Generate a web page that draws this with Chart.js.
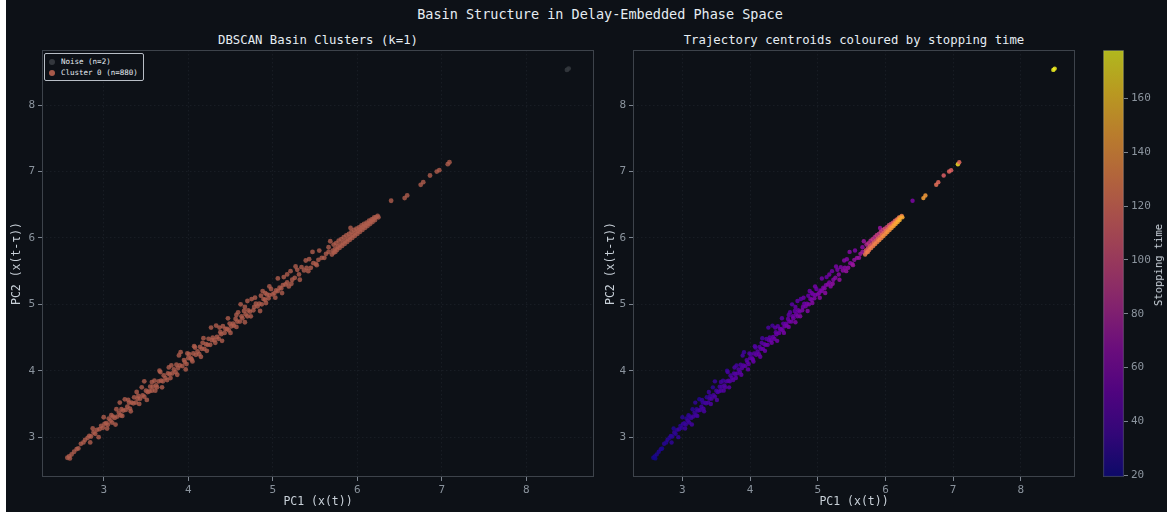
<!DOCTYPE html>
<html>
<head>
<meta charset="utf-8">
<script src="https://cdn.jsdelivr.net/npm/chart.js@4.4.1/dist/chart.umd.min.js"></script>
<style>
  body { margin: 0; background: #ffffff; }
  #fig { position: absolute; left: 6px; top: 0; width: 1161px; height: 512px; background: #0d1117;
         font-family: "DejaVu Sans Mono", monospace; overflow: hidden; }
  canvas { position: absolute; top: 0; }
  .txt { position: absolute; white-space: nowrap; color: #e6edf3; }
  #legend { position: absolute; left: 38px; top: 53px; border: 1px solid #b8bec6; border-radius: 2px;
            padding: 2px 5px 2px 4px; font-size: 7.5px; color: #e6edf3; line-height: 11px; background: #0d1117; }
  #legend .dot { display: inline-block; width: 6px; height: 6px; border-radius: 50%; margin-right: 6px; vertical-align: -1px; }
</style>
</head>
<body>
<div id="fig">
  <div class="txt" id="suptitle" style="left:0;width:1188px;text-align:center;top:6px;font-size:13.5px;">Basin Structure in Delay-Embedded Phase Space</div>
  <div class="txt" style="left:36px;width:552px;text-align:center;top:33px;font-size:12.3px;">DBSCAN Basin Clusters (k=1)</div>
  <div class="txt" style="left:627px;width:442px;text-align:center;top:33px;font-size:12.3px;">Trajectory centroids coloured by stopping time</div>
  <canvas id="left" width="594" height="512" style="left:0"></canvas>
  <canvas id="right" width="480" height="512" style="left:594px"></canvas>
  <canvas id="cbar" width="82" height="512" style="left:1079px"></canvas>
  <div class="txt" style="left:1152px;top:265px;font-size:10.5px;color:#c9d1d9;transform:translate(-50%,-50%) rotate(-90deg);">Stopping time</div>
  <div id="legend">
    <div><span class="dot" style="background:#33373d"></span>Noise (n=2)</div>
    <div><span class="dot" style="background:#a85a4a"></span>Cluster 0 (n=880)</div>
  </div>
</div>
<script>
// points: PC1, PC2 and stopping time
const noisePc1 = [8.48, 8.50];
const noisePc2 = [8.53, 8.55];
const noiseStop = [176, 174];

const clusterPc1 = [
  2.57, 2.59, 2.60, 2.62, 2.65, 2.68, 2.70, 2.73, 2.76, 2.78,
  2.81, 2.83, 2.85, 2.88, 2.90, 2.92, 2.95, 2.97, 2.99, 3.01,
  3.03, 3.05, 3.06, 3.08, 3.10, 3.11, 3.13, 3.15, 3.16, 3.18,
  3.20, 3.21, 3.23, 3.25, 3.26, 3.28, 3.30, 3.31, 3.33, 3.35,
  3.36, 3.38, 3.40, 3.41, 3.43, 3.45, 3.46, 3.48, 3.50, 3.52,
  3.54, 3.55, 3.57, 3.58, 3.60, 3.62, 3.63, 3.65, 3.66, 3.68,
  3.70, 3.71, 3.73, 3.75, 3.76, 3.78, 3.80, 3.81, 3.83, 3.85,
  3.86, 3.88, 3.90, 3.91, 3.93, 3.95, 3.96, 3.98, 4.00, 4.01,
  4.03, 4.04, 4.06, 4.08, 4.09, 4.11, 4.13, 4.14, 4.16, 4.18,
  4.19, 4.21, 4.23, 4.24, 4.26, 4.28, 4.29, 4.31, 4.33, 4.34,
  4.36, 4.38, 4.39, 4.41, 4.43, 4.44, 4.46, 4.48, 4.49, 4.51,
  4.53, 4.54, 4.56, 4.58, 4.59, 4.61, 4.63, 4.64, 4.66, 4.68,
  4.70, 4.71, 4.73, 4.75, 4.77, 4.78, 4.80, 4.82, 4.84, 4.86,
  4.87, 4.89, 4.91, 4.93, 4.95, 4.96, 4.98, 5.00,
  5.02, 5.04, 5.06, 5.08, 5.10, 5.12, 5.13, 5.15, 5.17, 5.19,
  5.21, 5.23, 5.26, 5.29, 5.31, 5.34, 5.37, 5.40, 5.43, 5.45,
  5.48, 5.51, 5.54, 5.55, 5.58, 5.61, 5.63, 5.66,
  4.62, 4.70, 4.88, 4.96, 5.92, 5.68, 5.66,
  // lower edge of the band
  2.84, 2.94, 3.04, 3.14, 3.22, 3.32, 3.42, 3.51, 3.61, 3.69,
  3.79, 3.87, 3.97, 4.05, 4.15, 4.22, 4.32, 4.40, 4.50, 4.57,
  4.67, 4.74, 4.85, 4.92, 5.03, 5.11, 5.22, 5.32, 5.42, 5.52,
  // upper scatter of the band
  2.87, 3.00, 3.09, 3.19, 3.29, 3.39, 3.48, 3.57, 3.67, 3.77,
  3.89, 3.99, 4.07, 4.17, 4.27, 4.37, 4.47, 4.57, 4.67, 4.79,
  4.91, 5.06, 5.17, 5.27, 5.39, 5.47,
  // dense basin: upper edge, middle, lower edge
  5.72, 5.75, 5.78, 5.81, 5.84, 5.87, 5.90, 5.93, 5.96, 5.99,
  6.02, 6.05, 6.08, 6.11, 6.14, 6.17, 6.20, 6.24,
  5.71, 5.74, 5.77, 5.80, 5.83, 5.86, 5.89, 5.92, 5.95, 5.98,
  6.01, 6.04, 6.07, 6.10, 6.13, 6.16, 6.19, 6.22,
  5.70, 5.72, 5.74, 5.76, 5.79, 5.82, 5.85, 5.88, 5.91, 5.94,
  5.97, 6.00, 6.03, 6.06, 6.09, 6.12, 6.15, 6.18, 6.21, 6.25,
  // isolated points beyond the basin
  6.40, 6.56, 6.59, 6.75, 6.78, 6.86, 6.94, 6.97, 7.07, 7.09
];
const clusterPc2 = [
  2.69, 2.71, 2.68, 2.74, 2.78, 2.82, 2.83, 2.90, 2.92, 2.96,
  2.99, 3.02, 3.01, 3.07, 3.05, 3.11, 3.12, 3.17, 3.14, 3.20,
  3.21, 3.19, 3.28, 3.25, 3.22, 3.31, 3.29, 3.42, 3.31, 3.37,
  3.33, 3.42, 3.40, 3.57, 3.41, 3.46, 3.52, 3.43, 3.52, 3.51,
  3.60, 3.52, 3.58, 3.62, 3.58, 3.75, 3.63, 3.61, 3.70, 3.68,
  3.69, 3.76, 3.70, 3.76, 3.85, 3.78, 3.75, 3.84, 4.00, 3.85,
  3.84, 3.93, 3.89, 3.86, 3.96, 3.95, 4.08, 3.96, 4.02, 3.98,
  4.09, 4.04, 4.08, 4.28, 4.07, 4.16, 4.13, 4.10, 4.19, 4.25,
  4.19, 4.17, 4.26, 4.35, 4.24, 4.29, 4.25, 4.36, 4.33, 4.49,
  4.33, 4.40, 4.39, 4.48, 4.39, 4.46, 4.50, 4.46, 4.68, 4.51,
  4.48, 4.58, 4.55, 4.67, 4.57, 4.63, 4.63, 4.61, 4.71, 4.67,
  4.71, 4.68, 4.78, 4.74, 4.88, 4.74, 4.82, 4.79, 4.90, 4.85,
  4.82, 4.91, 4.89, 5.08, 4.91, 4.96, 5.01, 4.97, 5.01, 5.13,
  5.00, 5.08, 5.07, 5.15, 5.09, 5.14, 5.23, 5.15,
  5.17, 5.21, 5.20, 5.25, 5.24, 5.29, 5.41, 5.30, 5.33, 5.27,
  5.50, 5.37, 5.40, 5.52, 5.45, 5.56, 5.51, 5.55, 5.68, 5.55,
  5.62, 5.61, 5.67, 5.81, 5.70, 5.70, 5.76, 5.79,
  5.00, 5.05, 5.20, 5.27, 6.15, 5.95, 5.86,
  2.92, 3.00, 3.13, 3.19, 3.32, 3.39, 3.50, 3.56, 3.70, 3.75,
  3.89, 3.94, 4.02, 4.14, 4.21, 4.30, 4.42, 4.45, 4.57, 4.66,
  4.73, 4.82, 4.90, 5.02, 5.10, 5.17, 5.31, 5.37, 5.50, 5.59,
  3.13, 3.30, 3.33, 3.52, 3.56, 3.68, 3.84, 3.83, 3.98, 4.05,
  4.23, 4.26, 4.37, 4.42, 4.65, 4.65, 4.79, 4.84, 4.96, 5.10,
  5.17, 5.39, 5.45, 5.57, 5.66, 5.79,
  5.90, 5.92, 5.96, 5.98, 6.01, 6.04, 6.06, 6.09, 6.12, 6.14,
  6.16, 6.19, 6.21, 6.23, 6.26, 6.28, 6.31, 6.33,
  5.81, 5.84, 5.87, 5.90, 5.93, 5.96, 5.99, 6.02, 6.05, 6.08,
  6.11, 6.14, 6.17, 6.19, 6.22, 6.25, 6.28, 6.31,
  5.75, 5.78, 5.79, 5.82, 5.85, 5.88, 5.91, 5.94, 5.97, 6.00,
  6.03, 6.06, 6.09, 6.12, 6.15, 6.18, 6.21, 6.24, 6.27, 6.31,
  6.56, 6.60, 6.64, 6.80, 6.84, 6.94, 7.00, 7.02, 7.11, 7.14
];
const clusterStop = [
  22, 24, 21, 25, 26, 27, 24, 28, 26, 29,
  27, 30, 28, 31, 29, 30, 32, 28, 31, 33,
  30, 33, 29, 34, 35, 31, 33, 28, 36, 32,
  35, 31, 34, 27, 37, 35, 32, 38, 34, 36,
  31, 38, 36, 33, 39, 29, 37, 40, 35, 38,
  39, 36, 41, 38, 34, 40, 42, 39, 32, 41,
  43, 38, 42, 44, 39, 43, 36, 44, 41, 45,
  39, 44, 43, 35, 46, 42, 45, 47, 44, 41,
  46, 48, 44, 40, 47, 45, 49, 43, 47, 38,
  50, 46, 49, 42, 51, 48, 45, 50, 37, 49,
  52, 47, 51, 44, 53, 49, 52, 54, 47, 53,
  51, 55, 50, 54, 46, 56, 52, 55, 49, 54,
  57, 53, 56, 45, 58, 55, 52, 57, 56, 50,
  59, 56, 58, 53, 60, 57, 52, 59,
  60, 58, 61, 59, 62, 60, 52, 63, 61, 64,
  55, 62, 64, 58, 65, 60, 66, 64, 62, 67,
  66, 68, 69, 60, 70, 71, 72, 74,
  45, 48, 52, 55, 70, 72, 66,
  30, 31, 34, 36, 36, 38, 40, 41, 43, 44,
  46, 47, 48, 50, 51, 52, 54, 55, 57, 58,
  60, 61, 62, 63, 65, 66, 68, 69, 71, 73,
  26, 28, 30, 31, 32, 34, 33, 36, 37, 39,
  38, 41, 42, 44, 40, 46, 45, 48, 50, 51,
  54, 55, 57, 58, 62, 63,
  80, 88, 84, 92, 86, 95, 90, 98, 94, 102,
  97, 105, 100, 108, 112, 118, 125, 130,
  112, 108, 115, 110, 118, 113, 120, 116, 122, 118,
  125, 121, 128, 124, 132, 135, 138, 142,
  126, 122, 128, 124, 130, 127, 132, 129, 135, 131,
  138, 134, 140, 137, 143, 145, 147, 150, 152, 148,
  60, 145, 142, 122, 118, 112, 116, 114, 168, 118
];

const axisTicks = [3, 4, 5, 6, 7, 8];
const cbarTicks = [20, 40, 60, 80, 100, 120, 140, 160];
const stopMin = 19.3, stopMax = 178;

const plasmaStops = [
  [13, 8, 135], [65, 4, 157], [106, 0, 168], [143, 13, 164], [177, 42, 144], [204, 71, 120],
  [225, 100, 98], [242, 132, 75], [252, 166, 54], [252, 206, 37], [240, 249, 33]
];
function plasma(v, a) {
  let t = Math.min(1, Math.max(0, (v - stopMin) / (stopMax - stopMin))) * (plasmaStops.length - 1);
  const i = Math.min(plasmaStops.length - 2, Math.floor(t));
  const f = t - i;
  const c = plasmaStops[i].map((c0, k) => Math.round(c0 + (plasmaStops[i + 1][k] - c0) * f));
  return `rgba(${c[0]},${c[1]},${c[2]},${a})`;
}

const toPoints = (xs, ys) => xs.map((x, i) => ({ x: x, y: ys[i] }));

const frame = {
  id: 'frame',
  afterDraw(chart) {
    const { ctx, chartArea: a } = chart;
    ctx.save();
    ctx.strokeStyle = '#3d434b';
    ctx.lineWidth = 1;
    ctx.strokeRect(a.left + 0.5, a.top + 0.5, a.width - 1, a.height - 1);
    ctx.restore();
  }
};

const tickFont = { family: '"DejaVu Sans Mono", monospace', size: 11 };
const titleFont = { family: '"DejaVu Sans Mono", monospace', size: 11.5 };

function phaseScales(yWidth) {
  const common = {
    type: 'linear',
    grid: { color: '#181d24', tickColor: '#7d8590', tickLength: 4, drawTicks: true },
    border: { display: false, dash: [1.5, 2.5] },
    ticks: { color: '#8b949e', font: tickFont, stepSize: 1, includeBounds: false, padding: 3 }
  };
  return {
    x: { ...common, min: 2.27, max: 8.80,
      afterBuildTicks: s => { s.ticks = axisTicks.map(v => ({ value: v })); },
      afterFit: s => { s.height = 35; },
      title: { display: true, text: 'PC1 (x(t))', color: '#c9d1d9', font: titleFont, padding: { top: 0, bottom: 3 } } },
    y: { ...common, min: 2.40, max: 8.83,
      afterBuildTicks: s => { s.ticks = axisTicks.map(v => ({ value: v })); },
      afterFit: s => { s.width = yWidth; },
      title: { display: true, text: 'PC2 (x(t-τ))', color: '#c9d1d9', font: titleFont, padding: { top: 4, bottom: 0 } } }
  };
}

const baseOpts = {
  responsive: false,
  animation: false,
  devicePixelRatio: 1,
  plugins: { legend: { display: false }, tooltip: { enabled: false } }
};

new Chart(document.getElementById('left'), {
  type: 'scatter',
  data: {
    datasets: [
      { label: 'Noise (n=2)', data: toPoints(noisePc1, noisePc2),
        backgroundColor: 'rgba(52,56,62,0.9)', borderWidth: 0, pointRadius: 2.4 },
      { label: 'Cluster 0 (n=880)', data: toPoints(clusterPc1, clusterPc2),
        backgroundColor: 'rgba(176,94,78,0.8)', borderWidth: 0, pointRadius: 2.4 }
    ]
  },
  options: { ...baseOpts, layout: { padding: { top: 50, right: 6, bottom: 0, left: 0 } }, scales: phaseScales(36) },
  plugins: [frame]
});

new Chart(document.getElementById('right'), {
  type: 'scatter',
  data: {
    datasets: [{
      label: 'Stopping time',
      data: toPoints(clusterPc1.concat(noisePc1), clusterPc2.concat(noisePc2)),
      backgroundColor: ctx => plasma(clusterStop.concat(noiseStop)[ctx.dataIndex], 0.85),
      borderWidth: 0, pointRadius: 2.2
    }]
  },
  options: { ...baseOpts, layout: { padding: { top: 50, right: 5, bottom: 0, left: 0 } }, scales: phaseScales(33) },
  plugins: [frame]
});

new Chart(document.getElementById('cbar'), {
  type: 'bar',
  data: {
    labels: [''],
    datasets: [{
      data: [[stopMin, stopMax]],
      backgroundColor: ctx => {
        const chart = ctx.chart;
        if (!chart.chartArea) return 'transparent';
        const ys = chart.scales.y;
        const g = chart.ctx.createLinearGradient(0, ys.getPixelForValue(stopMin), 0, ys.getPixelForValue(stopMax));
        for (let k = 0; k <= 20; k++) {
          const v = stopMin + (stopMax - stopMin) * k / 20;
          g.addColorStop(k / 20, plasma(v, 0.72));
        }
        return g;
      },
      borderColor: '#3d434b', borderWidth: 1, borderSkipped: false,
      barPercentage: 1, categoryPercentage: 1
    }]
  },
  options: {
    ...baseOpts,
    layout: { padding: { top: 50, right: 0, bottom: 35, left: 18 } },
    scales: {
      x: { display: false },
      y: { position: 'right', min: stopMin, max: stopMax,
        afterBuildTicks: s => { s.ticks = cbarTicks.map(v => ({ value: v })); },
        afterFit: s => { s.width = 43; },
        grid: { display: true, drawOnChartArea: false, tickColor: '#7d8590', tickLength: 4 },
        border: { display: false },
        ticks: { color: '#8b949e', font: tickFont, padding: 3 } }
    }
  }
});
</script>
</body>
</html>
